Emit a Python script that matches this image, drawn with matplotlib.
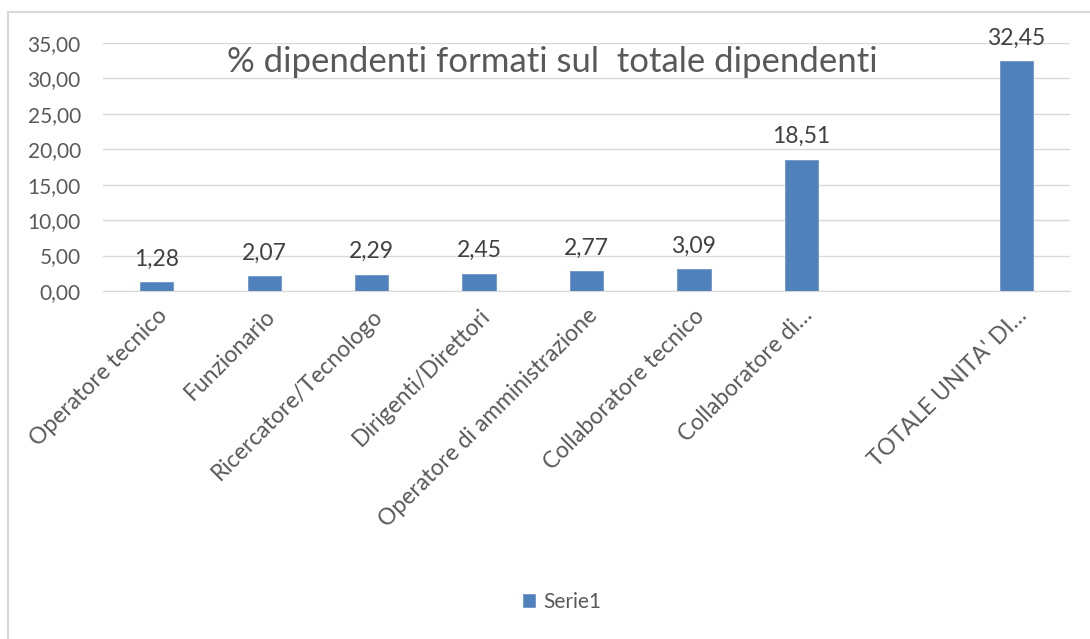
import numpy as np
import matplotlib
matplotlib.use("Agg")
import matplotlib.pyplot as plt
from matplotlib.lines import Line2D

plt.rcParams['font.family'] = ['Lato', 'DejaVu Sans']

# data
categories = ["Operatore tecnico", "Funzionario", "Ricercatore/Tecnologo",
              "Dirigenti/Direttori", "Operatore di amministrazione",
              "Collaboratore tecnico", "Collaboratore di…", "",
              "TOTALE UNITA' DI…"]
values = [1.28, 2.07, 2.29, 2.45, 2.77, 3.09, 18.51, np.nan, 32.45]
series_name = "Serie1"
title = "% dipendenti formati sul  totale dipendenti"

BAR = "#4F81BD"
TXT = "#595959"
GRID = "#D9D9D9"

W, H = 1090, 639
fig = plt.figure(figsize=(W / 100, H / 100), dpi=100)
ax = fig.add_axes([103 / W, 1 - 291 / H, 967 / W, 248 / H])

x = np.arange(len(categories))
bars = ax.bar(x, values, width=0.31, color=BAR, edgecolor="#6F96C8",
              linewidth=0.6, label=series_name, zorder=3)

for xi, v in zip(x, values):
    if np.isnan(v):
        continue
    ax.annotate(f"{v:.2f}".replace(".", ","), (xi, v), xytext=(0, 9),
                textcoords="offset points", ha="center", va="bottom",
                fontsize=16.5, color="#404040")

ax.set_xlim(-0.5, len(categories) - 0.5)
ax.set_ylim(0, 35)
ax.set_yticks(np.arange(0, 36, 5))
ax.set_yticklabels([f"{t:.2f}".replace(".", ",") for t in np.arange(0, 36, 5)])
ax.yaxis.grid(True, color=GRID, linewidth=1, zorder=0)
ax.set_axisbelow(True)
for s in ["top", "right", "left"]:
    ax.spines[s].set_visible(False)
ax.spines["bottom"].set_color(GRID)
ax.tick_params(axis="both", length=0, colors=TXT, labelsize=15)
ax.tick_params(axis="y", pad=16)

ax.set_xticks(x)
ax.set_xticklabels(categories, rotation=45, ha="right", va="top",
                   rotation_mode="anchor", fontsize=16.5)
ax.tick_params(axis="x", pad=10)

ax.text(0.465, 0.925, title, transform=ax.transAxes, ha="center",
        va="center", fontsize=25, color=TXT)

fig.legend(loc="center", bbox_to_anchor=(562 / W, 1 - 602 / H), frameon=False,
           handlelength=0.6, handleheight=0.6, handletextpad=0.4,
           fontsize=15, labelcolor=TXT)

# chart frame (cropped at right and bottom)
fig.add_artist(Line2D([8 / W, 1], [1 - 12 / H, 1 - 12 / H], color=GRID, lw=1.5))
fig.add_artist(Line2D([8 / W, 8 / W], [0, 1 - 12 / H], color=GRID, lw=1.5))

fig.savefig("out.png", dpi=100)
